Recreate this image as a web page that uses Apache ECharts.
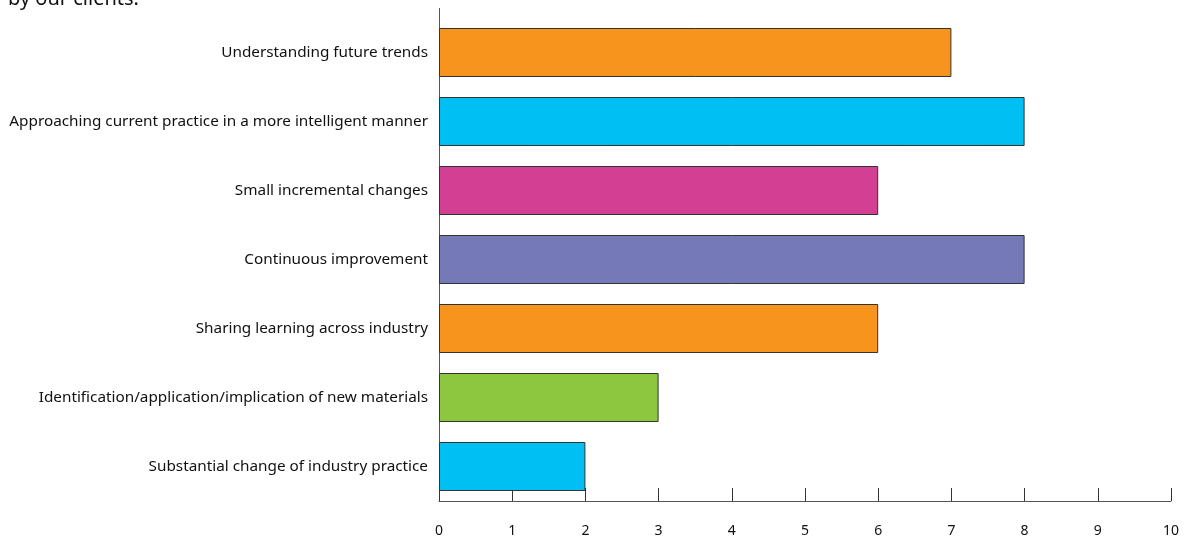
<!DOCTYPE html>
<html><head><meta charset="utf-8">
<script src="https://cdn.jsdelivr.net/npm/echarts@6/dist/echarts.min.js"></script>
<style>html,body{margin:0;padding:0;background:#fff}#c{width:1191px;height:541px}</style>
</head><body><div id="c"></div>
<script>
const categories = [
  "Understanding future trends",
  "Approaching current practice in a more intelligent manner",
  "Small incremental changes",
  "Continuous improvement",
  "Sharing learning across industry",
  "Identification/application/implication of new materials",
  "Substantial change of industry practice"
];
const values = [7, 8, 6, 8, 6, 3, 2];
const barColors = ["#F7941D", "#00BFF3", "#D23F93", "#7579B8", "#F7941D", "#8DC63F", "#00BFF3"];
const xTicks = [0,1,2,3,4,5,6,7,8,9,10];
const titleText = "by our clients.";

const chart = echarts.init(document.getElementById('c'));
const font = "'Noto Sans', sans-serif";
chart.setOption({
  animation: false,
  graphic: [
    { type: 'text', left: 8, top: -11, style: { text: titleText, font: "20px " + font, fill: '#111' } },
    { type: 'line', shape: { x1: 439.5, y1: 8, x2: 439.5, y2: 19 }, style: { stroke: '#555', lineWidth: 1 } }
  ],
  grid: { left: 439, right: 20, top: 18, bottom: 40, containLabel: false },
  xAxis: {
    type: 'value', min: 0, max: 10, interval: 1,
    axisLine: { show: true, lineStyle: { color: '#555', width: 1 } },
    axisTick: { show: true, inside: true, length: 13, lineStyle: { color: '#333' } },
    splitLine: { show: false },
    axisLabel: { margin: 23, color: '#111', fontSize: 14, fontFamily: font,
      formatter: v => String(xTicks[v] !== undefined ? xTicks[v] : v) }
  },
  yAxis: {
    type: 'category', data: categories, inverse: true,
    axisLine: { show: true, lineStyle: { color: '#555', width: 1 } },
    axisTick: { show: false },
    axisLabel: { margin: 11, color: '#111', fontSize: 15.3, fontFamily: font }
  },
  series: [{
    type: 'bar',
    data: values.map((v, i) => ({ value: v, itemStyle: { color: barColors[i] } })),
    barCategoryGap: '29%',
    itemStyle: { borderColor: '#333', borderWidth: 1 }
  }]
});
</script></body></html>
